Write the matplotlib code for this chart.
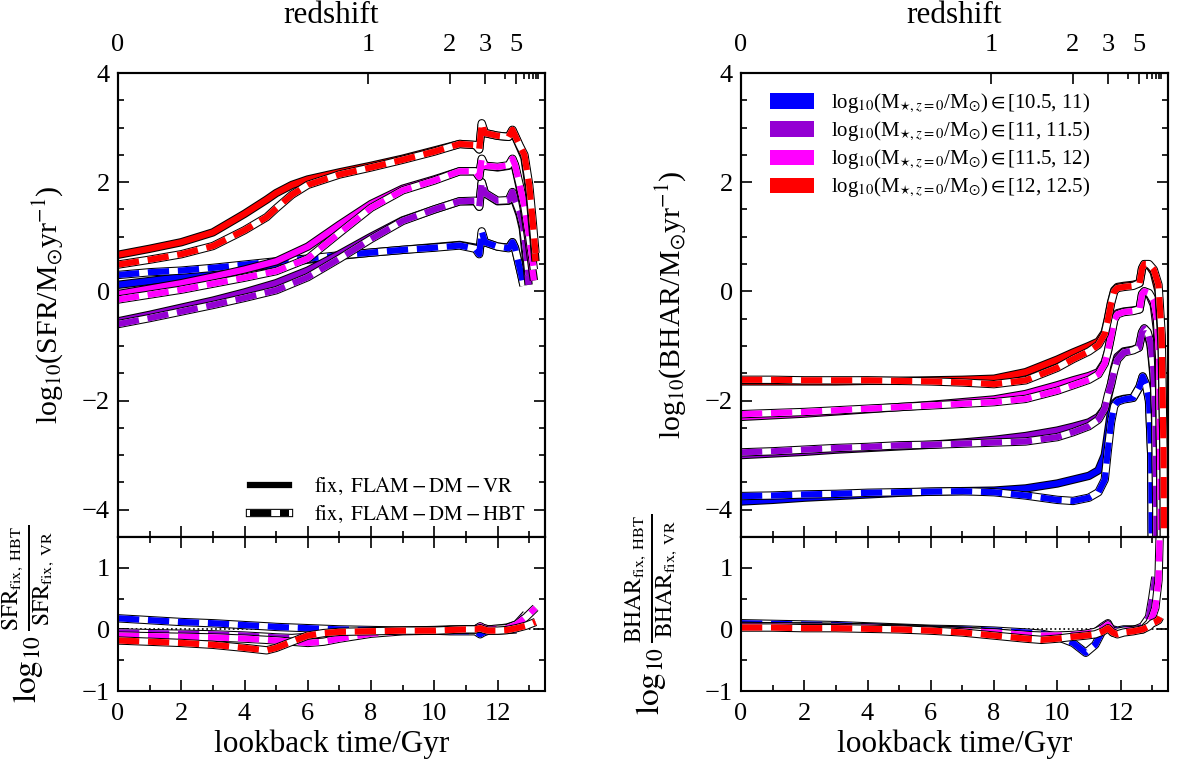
import numpy as np
import matplotlib
matplotlib.use("Agg")
import matplotlib.pyplot as plt
from matplotlib.lines import Line2D
from matplotlib.patches import Patch
import matplotlib.patheffects as pe
from matplotlib.ticker import MultipleLocator, FixedLocator, NullFormatter

plt.rcParams['font.family'] = ['Liberation Serif', 'DejaVu Serif']
plt.rcParams['mathtext.fontset'] = 'stix'
plt.rcParams['axes.linewidth'] = 1.5

# ---------------- data ----------------
colors = ['#0000ff', '#9400d3', '#ff00ff', '#ff0000']
bin_labels = [r"log$_{10}$(M$_{\star,z=0}$/M$_{\odot}$)$\in$[10.5, 11)",
              r"log$_{10}$(M$_{\star,z=0}$/M$_{\odot}$)$\in$[11, 11.5)",
              r"log$_{10}$(M$_{\star,z=0}$/M$_{\odot}$)$\in$[11.5, 12)",
              r"log$_{10}$(M$_{\star,z=0}$/M$_{\odot}$)$\in$[12, 12.5)"]

# SFR, left main panel
t_sfr_blue = [0, 1, 2, 3, 4, 5, 6, 7, 8, 9, 10, 10.8, 11.3, 11.42, 11.5, 11.6, 12.0, 12.35, 12.47, 12.55, 12.65, 12.75, 12.82]
sfr_vr_blue = [0.12, 0.19, 0.26, 0.34, 0.42, 0.5, 0.58, 0.65, 0.71, 0.76, 0.81, 0.85, 0.8, 0.7, 1.05, 0.9, 0.82, 0.8, 0.9, 0.8, 0.55, 0.3, 0.12]
sfr_hbt_blue = [0.30, 0.35, 0.38, 0.43, 0.49, 0.55, 0.6, 0.66, 0.71, 0.76, 0.8, 0.84, 0.78, 0.68, 1.1, 0.9, 0.82, 0.79, 0.9, 0.8, 0.55, 0.3, 0.1]

t_sfr_purple = [0, 1, 2, 3, 4, 5, 6, 7, 8, 9, 10, 10.8, 11.3, 11.42, 11.5, 11.6, 12.0, 12.35, 12.47, 12.55, 12.7, 12.8, 12.9, 12.98]
sfr_vr_purple = [-0.55, -0.43, -0.3, -0.17, -0.02, 0.15, 0.38, 0.68, 1.0, 1.3, 1.5, 1.65, 1.65, 1.55, 2.0, 1.8, 1.65, 1.66, 1.8, 1.65, 1.4, 1.15, 0.6, 0.12]
sfr_hbt_purple = [-0.6, -0.49, -0.37, -0.25, -0.12, 0.02, 0.26, 0.6, 0.96, 1.29, 1.5, 1.65, 1.66, 1.55, 2.0, 1.8, 1.66, 1.67, 1.82, 1.68, 1.45, 1.22, 0.75, 0.3]

t_sfr_magenta = [0, 1, 2, 3, 4, 5, 6, 7, 8, 9, 10, 10.8, 11.3, 11.42, 11.5, 11.6, 12.0, 12.35, 12.47, 12.55, 12.7, 12.85, 13.0, 13.1, 13.15]
sfr_vr_magenta = [-0.05, 0.05, 0.15, 0.27, 0.4, 0.55, 0.82, 1.22, 1.6, 1.88, 2.05, 2.2, 2.2, 2.1, 2.42, 2.3, 2.27, 2.3, 2.42, 2.3, 1.9, 1.45, 0.85, 0.4, 0.2]
sfr_hbt_magenta = [-0.15, -0.06, 0.03, 0.14, 0.25, 0.37, 0.6, 1.07, 1.53, 1.85, 2.03, 2.2, 2.2, 2.1, 2.43, 2.3, 2.28, 2.31, 2.43, 2.32, 1.95, 1.55, 1.0, 0.6, 0.4]

t_sfr_red = [0, 1, 2, 3, 4, 4.7, 5, 5.5, 6, 7, 8, 9, 10, 10.8, 11.3, 11.42, 11.5, 11.6, 12.0, 12.35, 12.47, 12.55, 12.7, 12.85, 13.0, 13.1, 13.2]
sfr_vr_red = [0.67, 0.78, 0.9, 1.08, 1.42, 1.68, 1.8, 1.95, 2.05, 2.18, 2.3, 2.43, 2.58, 2.7, 2.68, 2.6, 3.05, 2.9, 2.85, 2.83, 2.95, 2.85, 2.65, 2.45, 1.85, 1.2, 0.55]
sfr_hbt_red = [0.49, 0.58, 0.68, 0.83, 1.12, 1.36, 1.52, 1.77, 1.95, 2.14, 2.27, 2.41, 2.56, 2.7, 2.68, 2.6, 3.08, 2.9, 2.85, 2.83, 2.96, 2.86, 2.67, 2.5, 1.95, 1.35, 0.7]

# SFR ratio, left lower panel
t_rsfr = [0, 1, 2, 3, 4, 4.7, 5, 5.5, 6, 6.5, 7, 8, 9, 10, 10.5, 11, 11.3, 11.45, 11.55, 11.7, 12, 12.3, 12.6, 12.9, 13.2]
rsfr_blue = [0.18, 0.15, 0.12, 0.1, 0.07, 0.05, 0.04, 0.03, 0.02, 0.01, 0.0, -0.01, -0.02, -0.02, -0.03, -0.03, -0.03, -0.08, -0.05, -0.02, -0.02, -0.01, 0.0]
rsfr_purple = [-0.05, -0.06, -0.07, -0.08, -0.1, -0.12, -0.13, -0.14, -0.12, -0.1, -0.08, -0.04, -0.02, -0.01, 0.0, 0.0, 0.0, 0.04, 0.02, 0.0, 0.01, 0.03, 0.08, 0.25]
rsfr_magenta = [-0.1, -0.11, -0.12, -0.13, -0.15, -0.17, -0.18, -0.2, -0.22, -0.2, -0.15, -0.07, -0.03, -0.02, -0.01, 0.0, 0.0, 0.05, 0.02, 0.0, 0.01, 0.02, 0.08, 0.2, 0.35]
rsfr_red = [-0.18, -0.2, -0.22, -0.25, -0.3, -0.34, -0.3, -0.2, -0.1, -0.06, -0.04, -0.03, -0.02, -0.02, -0.01, 0.0, 0.0, 0.02, 0.0, -0.02, -0.02, -0.01, 0.02, 0.06, 0.12]

# BHAR, right main panel
t_bh_blue = [0, 1, 2, 3, 4, 5, 6, 7, 8, 9, 10, 10.5, 11, 11.3, 11.5, 11.6, 11.7, 11.8, 11.9, 12.1, 12.4, 12.6, 12.7, 12.8, 12.9, 12.97, 13.0]
bh_vr_blue = [-3.85, -3.82, -3.78, -3.75, -3.72, -3.69, -3.67, -3.66, -3.65, -3.61, -3.52, -3.45, -3.38, -3.28, -3.0, -2.6, -2.2, -2.05, -2.0, -1.97, -1.95, -1.75, -1.56, -1.7, -2.0, -3.0, -6.0]
bh_hbt_blue = [-3.75, -3.74, -3.72, -3.71, -3.69, -3.68, -3.67, -3.66, -3.68, -3.74, -3.82, -3.84, -3.78, -3.68, -3.45, -2.9, -2.4, -2.1, -2.02, -1.98, -1.95, -1.75, -1.56, -1.7, -2.0, -3.0, -6.0]

t_bh_purple = [0, 1, 2, 3, 4, 5, 6, 7, 8, 9, 10, 10.5, 11, 11.3, 11.5, 11.6, 11.7, 11.8, 11.9, 12.1, 12.4, 12.58, 12.68, 12.75, 12.85, 12.95, 13.05, 13.1, 13.13, 13.15]
bh_vr_purple = [-3.0, -2.97, -2.94, -2.9, -2.87, -2.84, -2.81, -2.77, -2.72, -2.65, -2.55, -2.48, -2.4, -2.3, -2.15, -1.95, -1.7, -1.4, -1.2, -1.1, -1.07, -1.03, -0.75, -0.68, -0.75, -1.0, -1.6, -2.5, -4.0, -6.0]
bh_hbt_purple = [-2.95, -2.93, -2.9, -2.87, -2.85, -2.82, -2.81, -2.79, -2.77, -2.75, -2.67, -2.58, -2.47, -2.35, -2.15, -1.9, -1.7, -1.45, -1.25, -1.12, -1.08, -1.03, -0.75, -0.68, -0.74, -0.95, -1.5, -2.3, -4.0, -6.0]

t_bh_magenta = [0, 1, 2, 3, 4, 5, 6, 7, 8, 9, 10, 10.5, 11, 11.3, 11.5, 11.6, 11.7, 11.8, 11.9, 12.1, 12.4, 12.6, 12.68, 12.75, 12.9, 13.05, 13.15, 13.22, 13.27, 13.29]
bh_vr_magenta = [-2.3, -2.27, -2.24, -2.2, -2.16, -2.12, -2.08, -2.03, -1.98, -1.88, -1.72, -1.63, -1.55, -1.48, -1.3, -1.1, -0.8, -0.5, -0.4, -0.37, -0.35, -0.33, -0.05, 0.0, -0.05, -0.25, -0.7, -1.8, -4.0, -6.0]
bh_hbt_magenta = [-2.25, -2.23, -2.21, -2.18, -2.15, -2.12, -2.09, -2.06, -2.03, -1.97, -1.82, -1.72, -1.62, -1.52, -1.32, -1.1, -0.82, -0.52, -0.42, -0.38, -0.36, -0.33, -0.05, 0.0, -0.03, -0.18, -0.5, -1.2, -4.0, -6.0]

t_bh_red = [0, 1, 2, 3, 4, 5, 6, 7, 8, 9, 10, 10.5, 11, 11.3, 11.5, 11.6, 11.7, 11.8, 11.9, 12.1, 12.4, 12.6, 12.68, 12.75, 12.9, 13.05, 13.2, 13.3, 13.36, 13.38]
bh_vr_red = [-1.65, -1.65, -1.65, -1.65, -1.64, -1.64, -1.63, -1.62, -1.6, -1.48, -1.25, -1.12, -1.0, -0.92, -0.75, -0.5, -0.2, 0.02, 0.08, 0.1, 0.12, 0.15, 0.42, 0.5, 0.48, 0.35, 0.0, -1.0, -3.0, -6.0]
bh_hbt_red = [-1.62, -1.62, -1.63, -1.63, -1.63, -1.64, -1.65, -1.67, -1.7, -1.63, -1.4, -1.24, -1.1, -0.98, -0.78, -0.52, -0.22, 0.0, 0.06, 0.08, 0.1, 0.15, 0.42, 0.5, 0.5, 0.4, 0.12, -0.8, -3.0, -6.0]

# BHAR ratio, right lower panel
t_rbh = [0, 1, 2, 3, 4, 5, 6, 7, 8, 9, 9.5, 10, 10.5, 10.9, 11.2, 11.45, 11.6, 11.75, 11.9, 12.1, 12.4, 12.7, 12.9, 13.0, 13.1, 13.2, 13.25]
rbh_blue = [0.1, 0.09, 0.08, 0.07, 0.05, 0.03, 0.01, 0.0, -0.02, -0.05, -0.07, -0.12, -0.22, -0.38, -0.25, 0.0, 0.05, 0.0, -0.02, 0.0, 0.0, 0.02, 0.1]
rbh_purple = [0.06, 0.05, 0.05, 0.04, 0.03, 0.02, 0.0, -0.02, -0.05, -0.1, -0.12, -0.12, -0.1, -0.08, -0.05, 0.05, 0.1, -0.05, -0.05, -0.03, -0.02, 0.05, 0.2, 0.5, 0.85]
rbh_magenta = [0.05, 0.05, 0.04, 0.04, 0.03, 0.01, -0.01, -0.03, -0.05, -0.09, -0.1, -0.1, -0.09, -0.07, -0.04, 0.02, 0.08, -0.03, -0.04, -0.02, -0.01, 0.0, 0.1, 0.2, 0.35, 0.8, 1.8]
rbh_red = [0.03, 0.03, 0.02, 0.02, 0.01, 0.0, -0.02, -0.05, -0.1, -0.15, -0.17, -0.15, -0.12, -0.1, -0.08, -0.03, 0.02, -0.05, -0.08, -0.05, -0.03, 0.0, 0.05, 0.1, 0.12, 0.15, 0.2]

# redshift ticks for the top axis
z_major = [0, 1, 2, 3, 5]
z_minor = [4, 6, 7, 8, 9, 10]

# ---------------- helpers ----------------
LW = 4.5
OUT = 6.0
DASH = (0, (3.4, 1.4))
TICKFS = 19
LABFS = 22.5


def lookback(z, H0=68.1, Om=0.306):
    zz = np.linspace(0, z, 2000)
    integrand = 1.0 / ((1 + zz) * np.sqrt(Om * (1 + zz) ** 3 + 1 - Om))
    return 977.8 / H0 * np.trapezoid(integrand, zz)


def draw_solid(ax, t, y, c):
    ax.plot(t, y, color=c, lw=LW, solid_capstyle='butt', solid_joinstyle='round',
            path_effects=[pe.Stroke(linewidth=OUT, foreground='k'), pe.Normal()])


def draw_dashed(ax, t, y, c):
    ax.plot(t, y, color='white', lw=LW, solid_capstyle='butt', solid_joinstyle='round',
            path_effects=[pe.Stroke(linewidth=OUT, foreground='k'), pe.Normal()])
    ax.plot(t, y, color=c, lw=LW, ls=DASH, dash_capstyle='butt', dash_joinstyle='round')


def style(ax, ymaj, ymin, xlabels=True):
    ax.set_xlim(0, 13.5)
    ax.xaxis.set_major_locator(MultipleLocator(2))
    ax.xaxis.set_minor_locator(MultipleLocator(1))
    ax.yaxis.set_major_locator(MultipleLocator(ymaj))
    ax.yaxis.set_minor_locator(MultipleLocator(ymin))
    ax.tick_params(which='both', direction='in', right=True, labelsize=TICKFS, width=1.2)
    ax.tick_params(which='major', length=8)
    ax.tick_params(which='minor', length=4)
    ax.tick_params(axis='y', pad=6)
    ax.tick_params(axis='x', pad=9)
    if not xlabels:
        ax.tick_params(labelbottom=False)


def add_redshift_axis(ax):
    top = ax.twiny()
    top.set_xlim(ax.get_xlim())
    top.xaxis.set_major_locator(FixedLocator([lookback(z) for z in z_major]))
    top.set_xticklabels([str(z) for z in z_major])
    top.xaxis.set_minor_locator(FixedLocator([lookback(z) for z in z_minor]))
    top.xaxis.set_minor_formatter(NullFormatter())
    top.tick_params(which='both', direction='in', labelsize=TICKFS, width=1.2, pad=12)
    top.tick_params(which='major', length=8)
    top.tick_params(which='minor', length=4)
    top.set_xlabel('redshift', fontsize=LABFS, labelpad=8)
    return top


fig = plt.figure(figsize=(11.9, 7.67), dpi=100)
W, H = 1190.0, 767.0
x0L, x0R, axw = 118, 741, 427
ytop, ymid, ybot = 73, 537, 691

axL = fig.add_axes([x0L / W, 1 - ymid / H, axw / W, (ymid - ytop) / H])
axLr = fig.add_axes([x0L / W, 1 - ybot / H, axw / W, (ybot - ymid) / H])
axR = fig.add_axes([x0R / W, 1 - ymid / H, axw / W, (ymid - ytop) / H])
axRr = fig.add_axes([x0R / W, 1 - ybot / H, axw / W, (ybot - ymid) / H])

sfr_sets = [(t_sfr_blue, sfr_vr_blue, sfr_hbt_blue),
            (t_sfr_purple, sfr_vr_purple, sfr_hbt_purple),
            (t_sfr_magenta, sfr_vr_magenta, sfr_hbt_magenta),
            (t_sfr_red, sfr_vr_red, sfr_hbt_red)]
bh_sets = [(t_bh_blue, bh_vr_blue, bh_hbt_blue),
           (t_bh_purple, bh_vr_purple, bh_hbt_purple),
           (t_bh_magenta, bh_vr_magenta, bh_hbt_magenta),
           (t_bh_red, bh_vr_red, bh_hbt_red)]
rsfr_sets = [rsfr_blue, rsfr_purple, rsfr_magenta, rsfr_red]
rbh_sets = [rbh_blue, rbh_purple, rbh_magenta, rbh_red]

for c, (t, vr, hbt) in zip(colors, sfr_sets):
    draw_solid(axL, t, vr, c)
    draw_dashed(axL, t, hbt, c)
for c, (t, vr, hbt) in zip(colors, bh_sets):
    draw_solid(axR, t, vr, c)
    draw_dashed(axR, t, hbt, c)

for ax, rsets, tr in [(axLr, rsfr_sets, t_rsfr), (axRr, rbh_sets, t_rbh)]:
    ax.axhline(0, color='k', ls=':', lw=1.2, zorder=0)
    for c, r in zip(colors, rsets):
        draw_dashed(ax, tr[:len(r)], r, c)

for ax in (axL, axR):
    ax.set_ylim(-4.5, 4)
    style(ax, 2, 0.5, xlabels=False)
    ax.tick_params(top=False)
    add_redshift_axis(ax)
for ax in (axLr, axRr):
    ax.set_ylim(-1, 1.5)
    style(ax, 1, 0.5)
    ax.tick_params(which='both', top=True)
    ax.set_xlabel('lookback time/Gyr', fontsize=LABFS, labelpad=3)

axL.set_ylabel(r"log$_{10}$(SFR/M$_{\odot}$yr$^{-1}$)", fontsize=21.5, labelpad=12)
axR.set_ylabel(r"log$_{10}$(BHAR/M$_{\odot}$yr$^{-1}$)", fontsize=21.5, labelpad=12)
axLr.set_ylabel(r"$\log_{10}\frac{\mathrm{SFR_{fix,\ HBT}}}{\mathrm{SFR_{fix,\ VR}}}$", fontsize=24, labelpad=18)
axRr.set_ylabel(r"$\log_{10}\frac{\mathrm{BHAR_{fix,\ HBT}}}{\mathrm{BHAR_{fix,\ VR}}}$", fontsize=24, labelpad=18)

# left legend (line styles)
h_solid = Line2D([], [], color='k', lw=LW)
h_base = Line2D([], [], color='white', lw=LW,
                path_effects=[pe.Stroke(linewidth=OUT, foreground='k'), pe.Normal()])
h_dash = Line2D([], [], color='k', lw=LW, ls=DASH, dash_capstyle='butt')
axL.legend([h_solid, (h_base, h_dash)],
           [r"$\mathrm{fix,\ FLAM-DM-VR}$", r"$\mathrm{fix,\ FLAM-DM-HBT}$"],
           loc='lower right', bbox_to_anchor=(1.0, -0.015), frameon=False,
           fontsize=15, handlelength=1.9, handletextpad=1.2, labelspacing=0.35)

# right legend (mass bins)
handles = [Patch(facecolor=c, edgecolor='none') for c in colors]
axR.legend(handles, bin_labels, loc='upper left', bbox_to_anchor=(0.025, 1.0),
           frameon=False, fontsize=15, handlelength=2.1, handleheight=0.75,
           handletextpad=0.8, labelspacing=0.22)

fig.savefig('out.png', dpi=100)
